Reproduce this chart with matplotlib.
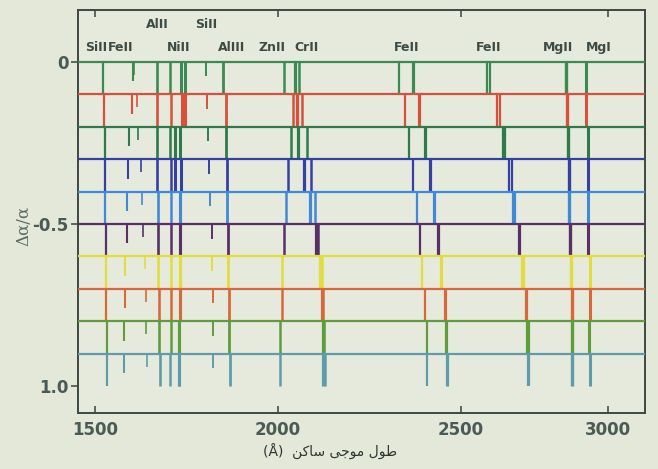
import numpy as np
import matplotlib
matplotlib.use("Agg")
import matplotlib.pyplot as plt

# ---------------- data ----------------
rows = [0.0, 0.1, 0.2, 0.3, 0.4, 0.5, 0.6, 0.7, 0.8, 0.9]
row_colors = ['#3a8a52', '#d8503c', '#2f7a4a', '#3441a2', '#4089d6',
              '#5a2f68', '#e2dc3e', '#d8683a', '#5e9c3c', '#5f9cab']

# line positions (rest wavelength axis, Å) in each row, top row first
si1526 = [1523, 1525, 1527, 1527, 1527, 1529, 1530, 1530, 1532, 1532]
fe1608 = [1605, 1600, 1594, 1591, 1587, 1587, 1582, 1582, 1580, 1580]
fe1611 = [1607, 1614, 1618, 1625, 1628, 1632, 1637, 1639, 1639, 1641]
al1670 = [1669, 1670, 1669, 1670, 1673, 1673, 1673, 1676, 1676, 1678]
ni1709 = [1705, 1708, 1705, 1708, 1709, 1709, 1709, 1709, 1707, 1705]
ni1741 = [1734, 1738, 1732, 1734, 1732, 1732, 1732, 1732, 1729, 1729]
ni1751 = [1745, 1746, 1719, 1718, 1732, 1732, 1732, 1732, 1729, 1729]
si1808 = [1803, 1805, 1808, 1812, 1814, 1819, 1821, 1823, 1823, 1823]
al1854 = [1851, 1857, 1858, 1860, 1861, 1864, 1864, 1867, 1867, 1869]
zn2026 = [2016, 2042, 2035, 2028, 2022, 2016, 2010, 2010, 2005, 2005]
cr2056 = [2047, 2051, 2055, 2071, 2087, 2104, 2116, 2119, 2122, 2124]
cr2066 = [2057, 2067, 2078, 2089, 2101, 2109, 2120, 2123, 2126, 2128]
fe2344 = [2331, 2347, 2359, 2368, 2379, 2388, 2393, 2402, 2406, 2406]
fe2382 = [2370, 2386, 2402, 2415, 2426, 2438, 2445, 2456, 2459, 2461]
fe2586 = [2587, 2622, 2643, 2663, 2677, 2699, 2707, 2721, 2724, 2728]
fe2600 = [2599, 2633, 2651, 2672, 2684, 2702, 2713, 2726, 2730, 2731]
mg2796 = [2857, 2859, 2865, 2868, 2868, 2871, 2873, 2879, 2877, 2879]
mg2852 = [2925, 2927, 2931, 2931, 2931, 2933, 2939, 2939, 2936, 2939]

# relative line depth (fraction of row spacing)
depths = {'si1526': 1.0, 'fe1608': 0.6, 'fe1611': 0.4, 'al1670': 1.0,
          'ni1709': 1.0, 'ni1741': 1.0, 'ni1751': 1.0, 'si1808': 0.45,
          'al1854': 1.0, 'zn2026': 1.0, 'cr2056': 1.0, 'cr2066': 1.0,
          'fe2344': 1.0, 'fe2382': 1.0, 'fe2586': 1.0, 'fe2600': 1.0,
          'mg2796': 1.0, 'mg2852': 1.0}

ion_names = ['AlII', 'SiII', 'SiII', 'FeII', 'NiII', 'AlIII', 'ZnII', 'CrII',
             'FeII', 'FeII', 'MgII', 'MgI']
ion_x = [1669, 1803, 1503, 1571, 1729, 1874, 1984, 2079, 2352, 2595, 2830, 2969]
ion_level = [1, 1, 0, 0, 0, 0, 0, 0, 0, 0, 0, 0]

xticks = [1500, 2000, 2500, 3000]
yticks = [0.0, 0.5, 1.0]
ytick_labels = ['0', '-0.5', '1.0']
xlabel = "(Å)  " + "\uFEE6\uFB90\uFE8E\uFEB3" + " " + "\uFBFD\uFE9F\uFEEE\uFEE3" + " " + "\uFEDD\uFEEE\uFEC3"
ylabel = "Δα/α"

# ---------------- axis scale of the printed figure ----------------
_tick_pix = np.array([95.0, 278.0, 461.0, 608.0])
_tick_val = np.array(xticks, dtype=float)


def _pw(x, xs, ys):
    x = np.asarray(x, dtype=float)
    y = np.interp(x, xs, ys)
    lo = x < xs[0]
    hi = x > xs[-1]
    s0 = (ys[1] - ys[0]) / (xs[1] - xs[0])
    s1 = (ys[-1] - ys[-2]) / (xs[-1] - xs[-2])
    y = np.where(lo, ys[0] + (x - xs[0]) * s0, y)
    y = np.where(hi, ys[-1] + (x - xs[-1]) * s1, y)
    return y


def fwd(x):
    return _pw(x, _tick_val, _tick_pix)


def inv(p):
    return _pw(p, _tick_pix, _tick_val)


# ---------------- figure ----------------
bg = '#e3e8d9'
fig = plt.figure(figsize=(6.58, 4.69), dpi=100, facecolor=bg)
ax = fig.add_axes([78 / 658, 1 - 413 / 469, (645 - 78) / 658, (413 - 10) / 469])
ax.set_facecolor('#e6eadd')
ax.set_xscale('function', functions=(fwd, inv))
ax.set_xlim(1453.6, 3126)
ax.set_ylim(1.083, -0.16)

step = 0.1
lines = [('si1526', si1526, 1.6), ('fe1608', fe1608, 1.5), ('fe1611', fe1611, 1.2),
         ('al1670', al1670, 1.9), ('ni1709', ni1709, 1.8), ('ni1741', ni1741, 2.2),
         ('ni1751', ni1751, 2.2), ('si1808', si1808, 1.4), ('al1854', al1854, 2.0),
         ('zn2026', zn2026, 1.8), ('cr2056', cr2056, 2.3), ('cr2066', cr2066, 1.8),
         ('fe2344', fe2344, 1.6), ('fe2382', fe2382, 2.3), ('fe2586', fe2586, 1.6),
         ('fe2600', fe2600, 1.6), ('mg2796', mg2796, 2.4), ('mg2852', mg2852, 2.2)]

for k, (r, c) in enumerate(zip(rows, row_colors)):
    ax.axhline(r, color=c, lw=1.6, zorder=3)
    for name, pos, lw in lines:
        d = depths[name]
        ax.vlines(pos[k], r, r + d * step, color=c, lw=lw, zorder=2)

for name, xv, lev in zip(ion_names, ion_x, ion_level):
    yv = -0.114 if lev == 1 else -0.043
    ax.text(xv, yv, name, ha='center', va='center', fontsize=9,
            fontweight='bold', color='#3d4b45', family='DejaVu Sans')

ax.set_xticks(xticks)
ax.set_xticklabels([str(t) for t in xticks])
ax.xaxis.set_minor_locator(matplotlib.ticker.NullLocator())
ax.set_yticks(yticks)
ax.set_yticklabels(ytick_labels)
ax.tick_params(axis='x', direction='in', top=True, bottom=True, length=5,
               width=1.2, color='#46504c', labelsize=12, labelcolor='#4b5a57', pad=6)
ax.tick_params(axis='y', direction='out', left=True, right=False, length=5,
               width=1.2, color='#46504c', labelsize=12, labelcolor='#4b5a57', pad=2)
for lab in ax.get_xticklabels() + ax.get_yticklabels():
    lab.set_fontweight('bold')

for s in ax.spines.values():
    s.set_color('#3f4745')
    s.set_linewidth(1.4)

fig.text(24 / 658, 1 - 226 / 469, ylabel, rotation=90, ha='center', va='center',
         fontsize=12, family='DejaVu Serif', color='#5b6966')
fig.text(330 / 658, 1 - 452 / 469, xlabel, ha='center', va='center',
         fontsize=10, family='DejaVu Sans', color='#2e3532')

fig.savefig('out.png', dpi=100, facecolor=bg)
